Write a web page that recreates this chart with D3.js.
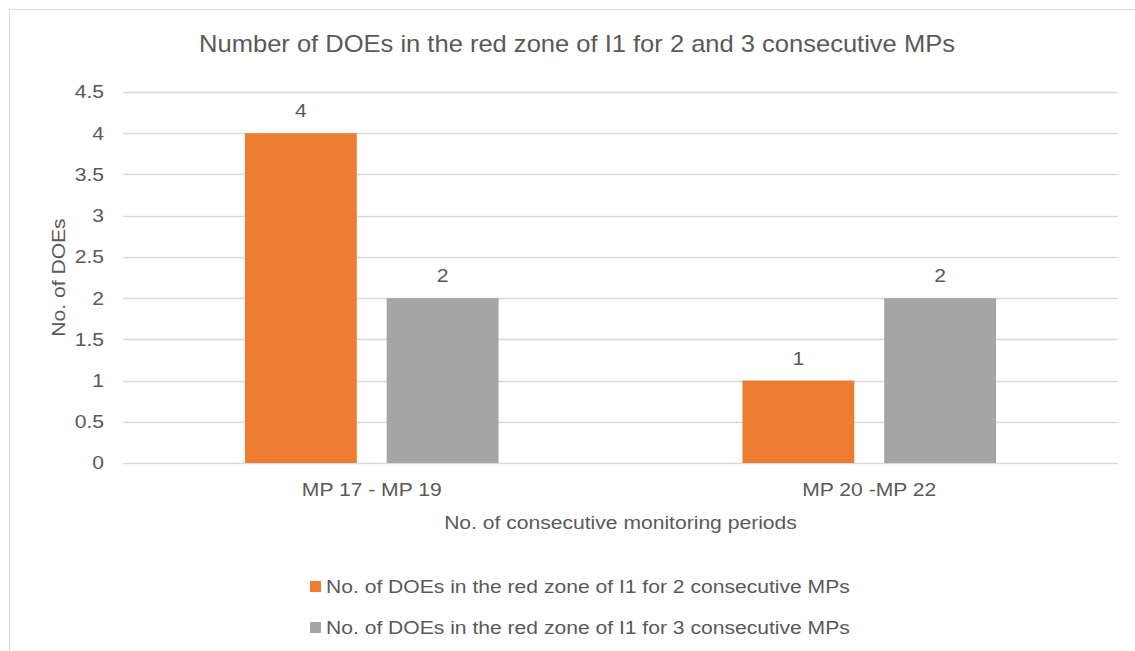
<!DOCTYPE html>
<html>
<head>
<meta charset="utf-8">
<script src="https://cdn.jsdelivr.net/npm/d3@7"></script>
<style>
body { margin: 0; background: #fff; }
svg text { font-family: "Liberation Sans", Arial, sans-serif; fill: #595959; }
</style>
</head>
<body>
<div id="chart"></div>
<script>
const categories = ['MP 17 - MP 19', 'MP 20 -MP 22'];
const seriesNames = [
    'No. of DOEs in the red zone of I1 for 2 consecutive MPs',
    'No. of DOEs in the red zone of I1 for 3 consecutive MPs'
];
const twoMPs = [4, 1];
const threeMPs = [2, 2];
const yTicks = [0, 0.5, 1, 1.5, 2, 2.5, 3, 3.5, 4, 4.5];
const colors = ['#ED7D31', '#A5A5A5'];

let width = 1135;
let height = 651;
let margin = { left: 123, right: 17, top: 92, bottom: 188 };
let fontSize = '18.5px';
// the original text is a bit wider than Arial, so stretch it sideways
let stretch = 'scale(1.14,1)';

function place(px, py) {
    return 'translate(' + px + ',' + py + ') ' + stretch;
}

const svg = d3.select('#chart')
    .append('svg')
    .attr('width', width)
    .attr('height', height)

// chart frame, runs off the right and bottom edge like the original
svg.append('rect')
    .attr('x', 9.5).attr('y', 9.5)
    .attr('width', 1200).attr('height', 700)
    .attr('fill', 'none')
    .attr('stroke', '#D9D9D9')

const x = d3.scaleBand()
    .domain(categories)
    .range([margin.left, width - margin.right])

const x1 = d3.scaleBand()
    .domain([0, 1])
    .range([0, x.bandwidth()])
    .paddingInner(0.211)
    .paddingOuter(0.86)

const y = d3.scaleLinear()
    .domain([0, 4.5])
    .range([height - margin.bottom, margin.top])

// gridlines
svg.append('g')
    .selectAll('line')
    .data(yTicks)
    .enter()
    .append('line')
    .attr('x1', margin.left)
    .attr('x2', width - margin.right)
    .attr('y1', d => Math.round(y(d)) + 0.5)
    .attr('y2', d => Math.round(y(d)) + 0.5)
    .attr('stroke', '#D9D9D9')
    .attr('stroke-width', 1.3)

// y axis tick labels
svg.append('g')
    .selectAll('text')
    .data(yTicks)
    .enter()
    .append('text')
    .attr('transform', d => place(104, y(d)))
    .attr('dy', '0.35em')
    .attr('text-anchor', 'end')
    .style('font-size', fontSize)
    .text(d => d)

const rows = [];
categories.forEach((c, i) => {
    rows.push({ cat: c, s: 0, v: twoMPs[i] });
    rows.push({ cat: c, s: 1, v: threeMPs[i] });
});

svg.append('g')
    .selectAll('rect')
    .data(rows)
    .enter()
    .append('rect')
    .attr('x', d => x(d.cat) + x1(d.s))
    .attr('width', x1.bandwidth())
    .attr('y', d => y(d.v))
    .attr('height', d => y(0) - y(d.v))
    .attr('fill', d => colors[d.s])

// data labels
svg.append('g')
    .selectAll('text')
    .data(rows)
    .enter()
    .append('text')
    .attr('transform', d => place(x(d.cat) + x1(d.s) + x1.bandwidth() / 2, y(d.v) - 16))
    .attr('text-anchor', 'middle')
    .style('font-size', fontSize)
    .text(d => d.v)

// category labels
svg.append('g')
    .selectAll('text')
    .data(categories)
    .enter()
    .append('text')
    .attr('transform', d => place(x(d) + x.bandwidth() / 2, 496))
    .attr('text-anchor', 'middle')
    .style('font-size', fontSize)
    .text(d => d)

svg.append('text')
    .attr('transform', 'translate(577,52) scale(1.11,1)')
    .attr('text-anchor', 'middle')
    .style('font-size', '23px')
    .text('Number of DOEs in the red zone of I1 for 2 and 3 consecutive MPs')

svg.append('text')
    .attr('transform', place((margin.left + width - margin.right) / 2, 529))
    .attr('text-anchor', 'middle')
    .style('font-size', fontSize)
    .text('No. of consecutive monitoring periods')

svg.append('text')
    .attr('transform', 'translate(65,' + y(2.25) + ') rotate(-90) ' + stretch)
    .attr('text-anchor', 'middle')
    .style('font-size', fontSize)
    .text('No. of DOEs')

// legend
const legend = svg.append('g')
    .selectAll('g')
    .data(seriesNames)
    .enter()
    .append('g')
    .attr('transform', (d, i) => 'translate(310,' + (581 + i * 41) + ')')

legend.append('rect')
    .attr('width', 11)
    .attr('height', 11)
    .attr('fill', (d, i) => colors[i])

legend.append('text')
    .attr('transform', 'translate(16,6) ' + stretch)
    .attr('dy', '0.35em')
    .style('font-size', fontSize)
    .text(d => d)
</script>
</body>
</html>
